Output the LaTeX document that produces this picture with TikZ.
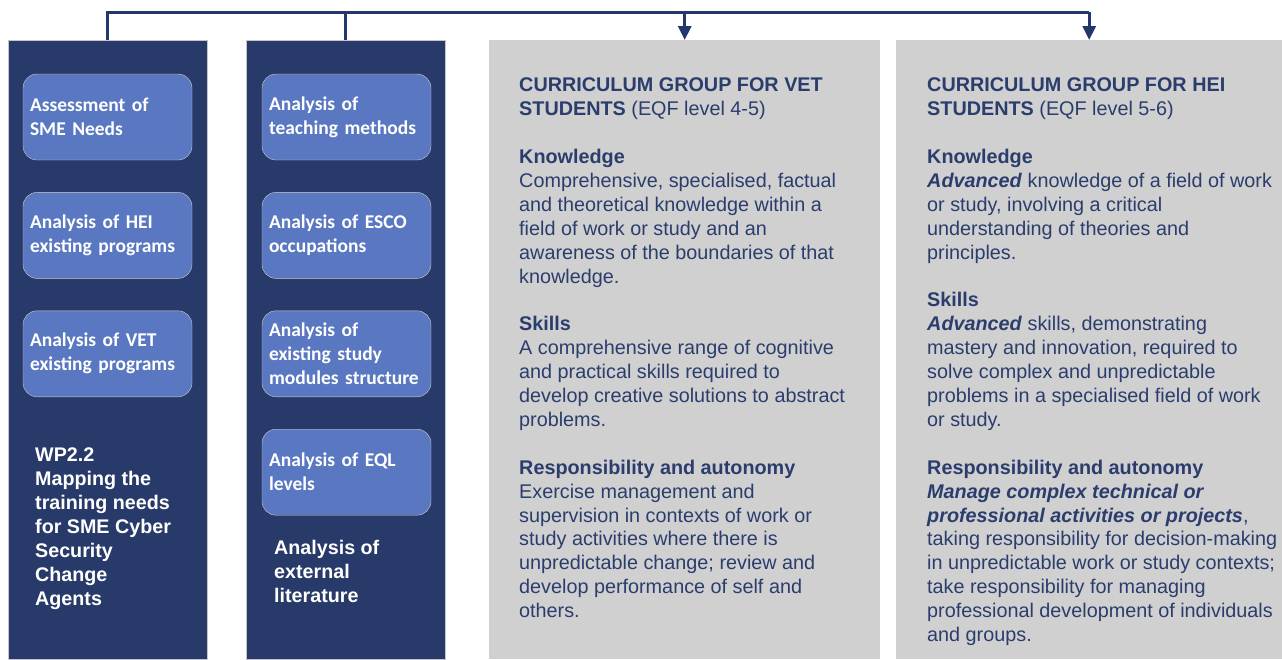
\documentclass[tikz,border=0pt]{standalone}
\usepackage{fontspec}
\setmainfont{Liberation Sans}
\newfontfamily\calibri{Carlito}
\usetikzlibrary{arrows.meta,positioning}
\definecolor{navy}{HTML}{283A69}
\definecolor{busblue}{HTML}{22376A}
\definecolor{taskblue}{HTML}{5A78C1}
\definecolor{panelgray}{HTML}{D0D0D0}
\definecolor{inktext}{HTML}{2A3D6D}
\tikzstyle{column} = [draw=gray!45, fill=navy, minimum width=199pt, minimum height=619pt, inner sep=0pt, anchor=north west]
\tikzstyle{panel} = [fill=panelgray, minimum height=619pt, inner sep=0pt, anchor=north west]
\tikzstyle{task} = [draw=gray!40, fill=taskblue, rounded corners=14pt, text width=155pt, inner sep=7pt, minimum height=86pt, align=left, text=white, font=\calibri\bfseries\fontsize{19.5}{24}\selectfont]
\tikzstyle{colLabel} = [text=white, align=left, inner sep=0pt, anchor=north west, font=\bfseries\fontsize{19.7}{24}\selectfont]
\tikzstyle{panelText} = [text=inktext, align=left, inner sep=0pt, anchor=north west, font=\fontsize{19.8}{23.9}\selectfont]
\tikzstyle{bus} = [line width=3pt, busblue]
\tikzstyle{busArrow} = [bus, -{Triangle[width=13pt,length=14pt]}]

\begin{document}
\begin{tikzpicture}[x=1pt,y=-1pt]
\useasboundingbox (0,0) rectangle (1282,659);
\node[column] (wp) at (8,40) {};
\node[column] (lit) at (246,40) {};
\node[panel, minimum width=391pt] (vet) at (489,40) {};
\node[panel, minimum width=386pt] (hei) at (896,40) {};

\coordinate (bus) at (0,12);
\draw[bus] (wp.north) -- (wp.north |- bus) -- (hei.north |- bus);
\draw[bus] (lit.north) -- (lit.north |- bus);
\draw[busArrow] (vet.north |- bus) -- (vet.north);
\draw[busArrow] (hei.north |- bus) -- (hei.north);

\node[task] (sme) at (107.5,117) {Assessment of\\SME Needs};
\node[task, below=32pt of sme] (heiprog) {Analysis of HEI\\existing programs};
\node[task, below=32pt of heiprog] (vetprog) {Analysis of VET\\existing programs};
\node[task] (teach) at (346.5,117) {Analysis of\\teaching methods};
\node[task, below=32pt of teach] (esco) {Analysis of ESCO\\occupations};
\node[task, below=32pt of esco] (modules) {Analysis of\\existing study\\modules structure};
\node[task, below=32pt of modules] (eql) {Analysis of EQL\\levels};

\node[colLabel] (wplabel) at (35,448) {WP2.2\\Mapping the\\training needs\\for SME Cyber\\Security\\Change\\Agents};
\node[colLabel] (litlabel) at (274,540.5) {Analysis of\\external\\literature};

\node[panelText] (vettext) at (519,77.8) {\textbf{CURRICULUM GROUP FOR VET}\\
\textbf{STUDENTS} (EQF level 4-5)\\[23.9pt]
\textbf{Knowledge}\\
Comprehensive, specialised, factual\\
and theoretical knowledge within a\\
field of work or study and an\\
awareness of the boundaries of that\\
knowledge.\\[23.9pt]
\textbf{Skills}\\
A comprehensive range of cognitive\\
and practical skills required to\\
develop creative solutions to abstract\\
problems.\\[23.9pt]
\textbf{Responsibility and autonomy}\\
Exercise management and\\
supervision in contexts of work or\\
study activities where there is\\
unpredictable change; review and\\
develop performance of self and\\
others.};
\node[panelText] (heitext) at (927,77.8) {\textbf{CURRICULUM GROUP FOR HEI}\\
\textbf{STUDENTS} (EQF level 5-6)\\[23.9pt]
\textbf{Knowledge}\\
\textbf{\textit{Advanced}} knowledge of a field of work\\
or study, involving a critical\\
understanding of theories and\\
principles.\\[23.9pt]
\textbf{Skills}\\
\textbf{\textit{Advanced}} skills, demonstrating\\
mastery and innovation, required to\\
solve complex and unpredictable\\
problems in a specialised field of work\\
or study.\\[23.9pt]
\textbf{Responsibility and autonomy}\\
\textbf{\textit{Manage complex technical or}}\\
\textbf{\textit{professional activities or projects}},\\
taking responsibility for decision-making\\
in unpredictable work or study contexts;\\
take responsibility for managing\\
professional development of individuals\\
and groups.};
\end{tikzpicture}
\end{document}
